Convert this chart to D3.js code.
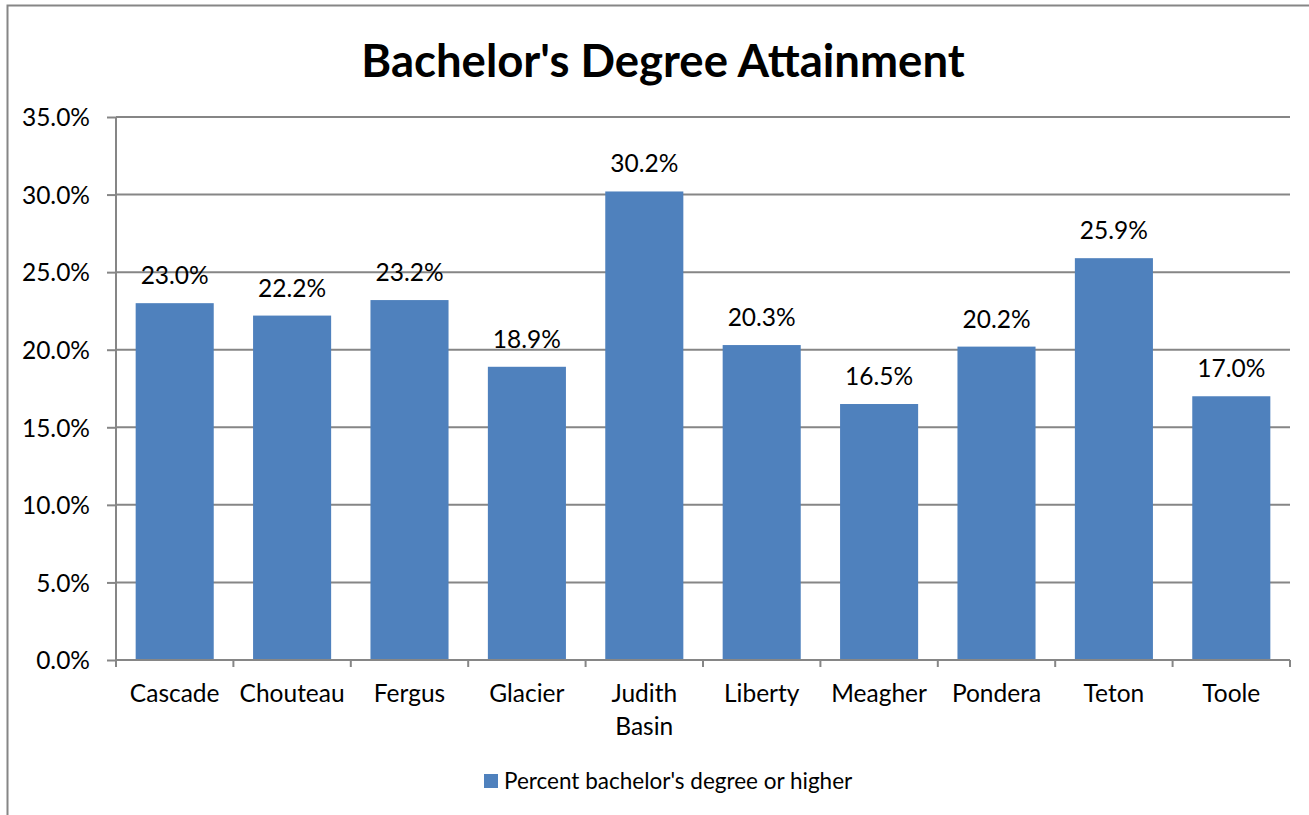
<!DOCTYPE html>
<html>
<head>
<meta charset="utf-8">
<script src="https://cdn.jsdelivr.net/npm/d3@7"></script>
<style>
  body { margin: 0; background: #fff; }
  svg { display: block; }
  text { font-family: Lato, "Open Sans", sans-serif; fill: #000; }
</style>
</head>
<body>
<div id="chart"></div>
<script>
var counties = ['Cascade', 'Chouteau', 'Fergus', 'Glacier', 'Judith Basin',
                'Liberty', 'Meagher', 'Pondera', 'Teton', 'Toole'];
var bachelorPct = [23.0, 22.2, 23.2, 18.9, 30.2, 20.3, 16.5, 20.2, 25.9, 17.0];
var yTicks = [0, 5, 10, 15, 20, 25, 30, 35];
var seriesName = "Percent bachelor's degree or higher";
var title = "Bachelor's Degree Attainment";

var width = 1309,
    height = 815,
    plotLeft = 116,
    plotRight = 1290,
    plotTop = 117,
    plotBottom = 660,
    barColor = '#4f81bd',
    lineColor = '#868686';

var svg = d3.select('#chart')
    .append('svg')
    .attr('width', width)
    .attr('height', height);

svg.append('rect')
    .attr('width', width)
    .attr('height', height)
    .attr('fill', '#fff');

// outer chart border (cut off at right and bottom)
svg.append('rect')
    .attr('x', 7.5)
    .attr('y', 5.5)
    .attr('width', 1400)
    .attr('height', 900)
    .attr('fill', 'none')
    .attr('stroke', lineColor)
    .attr('stroke-width', 2);

var xScale = d3.scaleBand()
    .domain(counties)
    .range([plotLeft, plotRight])
    .paddingInner(0.335)
    .paddingOuter(0.1675);

var yScale = d3.scaleLinear()
    .domain([0, 35])
    .range([plotBottom, plotTop]);

// gridlines
svg.append('g')
    .selectAll('line')
    .data(yTicks)
    .enter()
    .append('line')
    .attr('x1', plotLeft)
    .attr('x2', plotRight)
    .attr('y1', d => yScale(d))
    .attr('y2', d => yScale(d))
    .attr('stroke', lineColor)
    .attr('stroke-width', 2);

// y axis
var yAxis = d3.axisLeft(yScale)
    .tickValues(yTicks)
    .tickSize(9)
    .tickPadding(17)
    .tickFormat(d => d.toFixed(1) + '%');

var gy = svg.append('g')
    .attr('transform', 'translate(' + plotLeft + ',0)')
    .call(yAxis);
gy.select('.domain').remove();
gy.selectAll('.tick line').attr('stroke', lineColor).attr('stroke-width', 2);
gy.selectAll('.tick text')
    .style('font-size', '24.5px')
    .attr('dy', '0.36em');
gy.attr('font-family', null).attr('font-size', null);

svg.append('line')
    .attr('x1', plotLeft).attr('x2', plotLeft)
    .attr('y1', plotTop).attr('y2', plotBottom + 7)
    .attr('stroke', lineColor)
    .attr('stroke-width', 2);

// bars
svg.append('g')
    .selectAll('rect')
    .data(bachelorPct)
    .enter()
    .append('rect')
    .attr('x', (d, i) => xScale(counties[i]))
    .attr('y', d => yScale(d))
    .attr('width', xScale.bandwidth())
    .attr('height', d => yScale(0) - yScale(d))
    .attr('fill', barColor);

// data labels
svg.append('g')
    .selectAll('text')
    .data(bachelorPct)
    .enter()
    .append('text')
    .attr('x', (d, i) => xScale(counties[i]) + xScale.bandwidth() / 2)
    .attr('y', d => yScale(d) - 19)
    .attr('text-anchor', 'middle')
    .style('font-size', '24.5px')
    .text(d => d.toFixed(1) + '%');

// x axis line and category boundary ticks
svg.append('line')
    .attr('x1', plotLeft).attr('x2', plotRight)
    .attr('y1', plotBottom).attr('y2', plotBottom)
    .attr('stroke', lineColor)
    .attr('stroke-width', 2);

svg.append('g')
    .selectAll('line')
    .data(d3.range(counties.length + 1))
    .enter()
    .append('line')
    .attr('x1', i => plotLeft + i * xScale.step())
    .attr('x2', i => plotLeft + i * xScale.step())
    .attr('y1', plotBottom)
    .attr('y2', plotBottom + 7)
    .attr('stroke', lineColor)
    .attr('stroke-width', 2);

// category labels (wrap two-word names)
var xl = svg.append('g')
    .selectAll('text')
    .data(counties)
    .enter()
    .append('text')
    .attr('text-anchor', 'middle')
    .style('font-size', '24.5px')
    .attr('x', d => xScale(d) + xScale.bandwidth() / 2)
    .attr('y', 702);

xl.each(function (d) {
    var words = d.split(' ');
    var t = d3.select(this);
    if (words.length > 1 && d.length > 9) {
        words.forEach(function (w, j) {
            t.append('tspan')
                .attr('x', t.attr('x'))
                .attr('dy', j === 0 ? 0 : 33)
                .text(w);
        });
    } else {
        t.text(d);
    }
});

// title
svg.append('text')
    .attr('x', 663)
    .attr('y', 77)
    .attr('text-anchor', 'middle')
    .style('font-size', '45.5px')
    .style('font-weight', 'bold')
    .text(title);

// legend
svg.append('rect')
    .attr('x', 484)
    .attr('y', 774)
    .attr('width', 14)
    .attr('height', 14)
    .attr('fill', barColor);

svg.append('text')
    .attr('x', 504)
    .attr('y', 789)
    .style('font-size', '22.5px')
    .text(seriesName);
</script>
</body>
</html>
